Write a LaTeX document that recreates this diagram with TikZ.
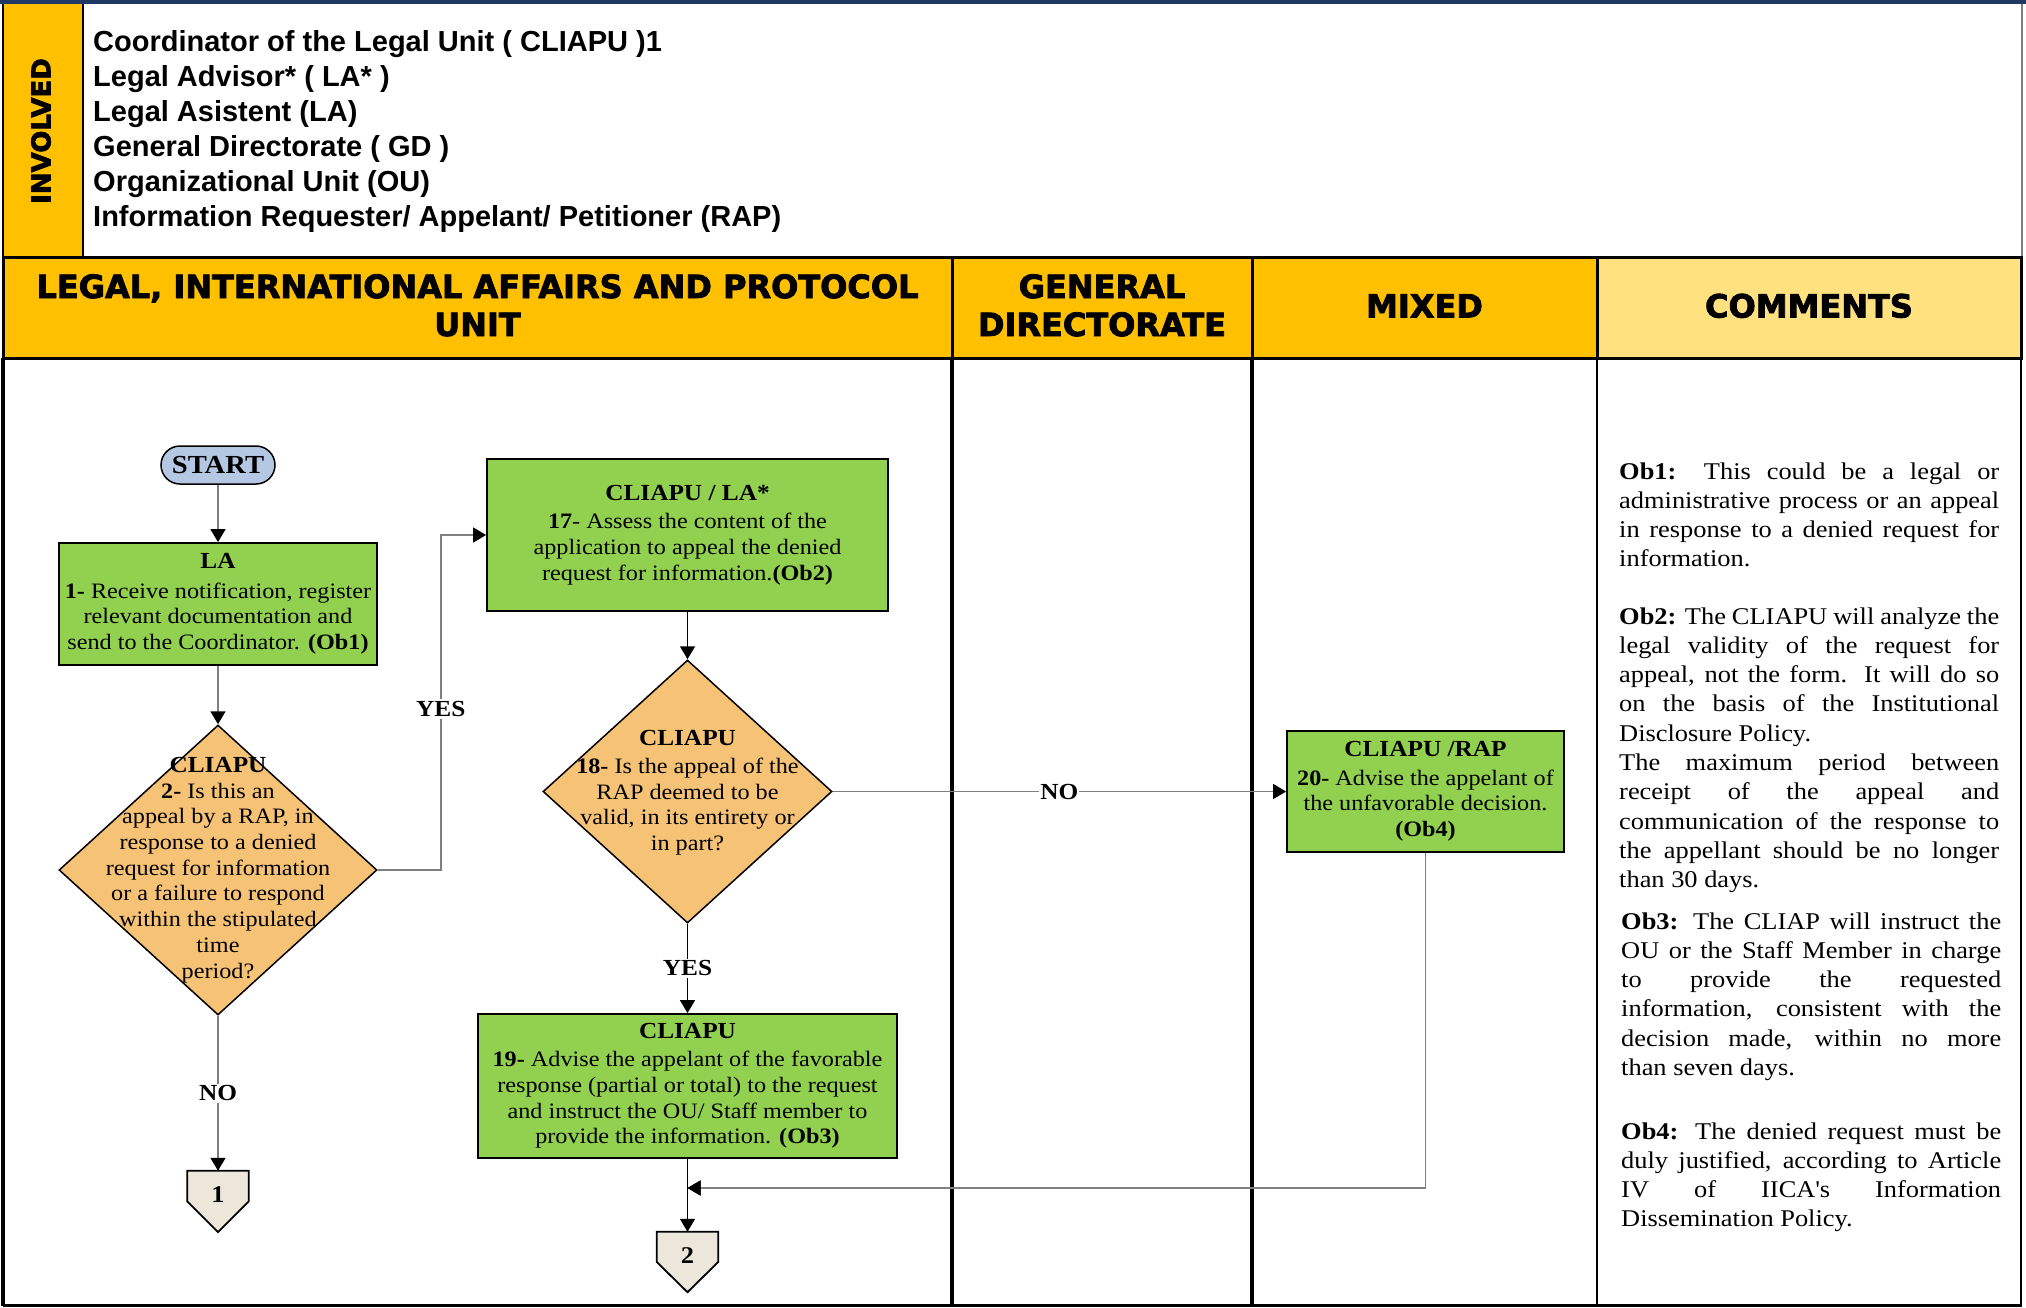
\documentclass[tikz,border=0pt]{standalone}
\usepackage{fontspec}
\setmainfont{Liberation Serif}[FakeStretch=1.1]
\newfontfamily\sansf{Liberation Sans}
\newfontfamily\blackf{DejaVu Sans}[BoldFeatures={FakeBold=2.5}]
\usetikzlibrary{shapes.geometric,arrows.meta,calc}
\definecolor{gold}{HTML}{FFC000}
\definecolor{lightgold}{HTML}{FFE17F}
\definecolor{boxgreen}{HTML}{92D050}
\definecolor{dmdorange}{HTML}{F5C276}
\definecolor{startblue}{HTML}{B4C8E4}
\definecolor{pentfill}{HTML}{EDE7DB}
\definecolor{navy}{HTML}{1F3864}
\definecolor{linegray}{HTML}{7F7F7F}
\newcommand\bodyfs{\fontsize{22}{25.7}\selectfont}
\newcommand\ttl[1]{{\fontsize{23}{25.7}\selectfont\bfseries #1}}
\newcommand\lblfs{\fontsize{23}{26}\selectfont\bfseries}
\newcommand\cmtfs{\fontsize{24}{29.3}\selectfont\hyphenpenalty=10000 \tolerance=10000 }
\newcommand\hdrfs{\blackf\bfseries\fontsize{32}{38}\selectfont}
\tikzset{
  box/.style={draw=black, line width=1.8pt, fill=boxgreen, align=center, inner sep=0pt, font=\bodyfs},
  dmd/.style={draw=black, line width=1.5pt, fill=dmdorange, shape=diamond, inner sep=0pt},
  dtext/.style={align=center, inner sep=0pt, font=\bodyfs},
  pent/.style={draw=black, line width=1.8pt, fill=pentfill},
  tipk/.tip={Triangle[length=13pt,width=15pt,color=black]},
  gconn/.style={draw=linegray, line width=1.5pt, -tipk},
  bconn/.style={draw=black, line width=1.5pt, -tipk},
  lbl/.style={fill=white, inner sep=2pt, font=\lblfs},
  cmt/.style={anchor=base west, text width=380pt, align=justify, inner sep=0pt, font=\cmtfs},
  cell/.style={line width=3pt, draw=black},
}
\begin{document}
\begin{tikzpicture}[x=1pt,y=-1pt]
\useasboundingbox (0,0) rectangle (2026,1307);
\fill[white] (0,0) rectangle (2026,1307);

% ---- involved area ----
\fill[gold] (3,3) rectangle (83,257);
\draw[line width=1.5pt] (3,3) -- (3,257);
\draw[line width=1.5pt] (83,3) -- (83,257);
\draw[linegray, line width=1.5pt] (2022,3) -- (2022,257);
\draw[navy, line width=4pt] (0,2) -- (2026,2);
\node[rotate=90, inner sep=0pt, font=\blackf\bfseries\fontsize{26}{30}\selectfont] (invl) at (41,131) {INVOLVED};
\node[anchor=base west, align=left, inner sep=0pt, font=\sansf\bfseries\fontsize{29}{35}\selectfont] (invlist) at (93,226)
 {Coordinator of the Legal Unit ( CLIAPU )1\\Legal Advisor* ( LA* )\\Legal Asistent (LA)\\General Directorate ( GD )\\Organizational Unit (OU)\\Information Requester/ Appelant/ Petitioner (RAP)};

% ---- header row ----
\filldraw[cell, fill=gold] (3,257) rectangle (952,358);
\filldraw[cell, fill=gold] (952,257) rectangle (1252,358);
\filldraw[cell, fill=gold] (1252,257) rectangle (1597,358);
\filldraw[cell, fill=lightgold] (1597,257) rectangle (2021,358);
\node[anchor=base, align=center, inner sep=0pt, font=\hdrfs] (h1) at (477.5,336) {LEGAL, INTERNATIONAL AFFAIRS AND PROTOCOL\\UNIT};
\node[anchor=base, align=center, inner sep=0pt, font=\hdrfs] (h2) at (1102,336) {GENERAL\\DIRECTORATE};
\node[anchor=base, inner sep=0pt, font=\hdrfs] (h3) at (1424.5,317.5) {MIXED};
\node[anchor=base, inner sep=0pt, font=\hdrfs] (h4) at (1809,317.5) {COMMENTS};

% ---- body lanes ----
\draw[line width=3.5pt] (3,358) -- (3,1306);
\draw[line width=3.5pt] (952,358) -- (952,1307);
\draw[line width=3.5pt] (1252,358) -- (1252,1307);
\draw[line width=2.5pt] (1597,358) -- (1597,1307);
\draw[line width=2pt] (2021,358) -- (2021,1307);
\draw[line width=2.5pt] (3,1305.5) -- (2021,1305.5);

% ---- flow nodes ----
\node[draw=black, line width=1.5pt, fill=startblue, rounded corners=19pt, minimum width=114pt, minimum height=38pt, inner sep=0pt, font=\fontsize{26}{28}\selectfont\bfseries] (start) at (218,465) {START};

\node[box, minimum width=318pt, minimum height=122pt] (la) at (218,604)
 {\ttl{LA}\\[3.5pt]\textbf{1-} Receive notification, register\\relevant documentation and\\send to the Coordinator. \textbf{(Ob1)}};

\node[dmd, minimum width=318pt, minimum height=290pt] (d2) at (218,870) {};
\node[dtext] (d2t) at (218,870)
 {\ttl{CLIAPU}\\\textbf{2-} Is this an\\appeal by a RAP, in\\response to a denied\\request for information\\or a failure to respond\\within the stipulated\\time\\period?};

\node[minimum width=61pt, minimum height=61pt, inner sep=0pt] (c1) at (218,1201.5) {};
\filldraw[pent] (c1.north west) -- (c1.north east) -- (c1.east) -- (c1.south) -- (c1.west) -- cycle;
\node[inner sep=0pt, font=\fontsize{24}{26}\selectfont\bfseries] (c1n) at (218,1195) {1};

\node[box, minimum width=401pt, minimum height=152pt] (b17) at (687.5,535)
 {\ttl{CLIAPU / LA*}\\[2.5pt]\textbf{17}- Assess the content of the\\application to appeal the denied\\request for information.\textbf{(Ob2)}};

\node[dmd, minimum width=289pt, minimum height=263pt] (d18) at (687.5,791.5) {};
\node[dtext] (d18t) at (687.5,792.5)
 {\ttl{CLIAPU}\\[2.5pt]\textbf{18-} Is the appeal of the\\RAP deemed to be\\valid, in its entirety or\\in part?};

\node[box, minimum width=419pt, minimum height=144pt] (b19) at (687.5,1086)
 {\ttl{CLIAPU}\\[2.5pt]\textbf{19-} Advise the appelant of the favorable\\response (partial or total) to the request\\and instruct the OU/ Staff member to\\provide the information. \textbf{(Ob3)}};

\node[minimum width=61pt, minimum height=60pt, inner sep=0pt] (c2) at (687.5,1262) {};
\filldraw[pent] (c2.north west) -- (c2.north east) -- (c2.east) -- (c2.south) -- (c2.west) -- cycle;
\node[inner sep=0pt, font=\fontsize{24}{26}\selectfont\bfseries] (c2n) at (687.5,1256) {2};

\node[box, minimum width=277pt, minimum height=121pt] (b20) at (1425.5,791.5)
 {\ttl{CLIAPU /RAP}\\[2.5pt]\textbf{20-} Advise the appelant of\\the unfavorable decision.\\\textbf{(Ob4)}};

\coordinate (jn) at (687.5,1188);

% ---- connectors ----
\draw[gconn] (start) -- (la);
\draw[gconn] (la) -- (d2.north);
\draw[gconn] (d2.south) -- node[lbl] (no1) {NO} (c1.north);
\draw[gconn] (d2.east) -- ++(63,0) |- node[lbl, pos=0.24] (yes1) {YES} (b17.west);
\draw[bconn] (b17) -- (d18.north);
\draw[bconn] (d18.south) -- node[lbl] (yes2) {YES} (b19.north);
\draw[gconn] (d18.east) -- node[lbl, inner sep=1pt] (no2) {NO} (b20.west);
\draw[bconn] (b19.south) -- (c2.north);
\draw[gconn] (b20.south) |- (jn);
\fill[black] (jn) -- ++(13,-7.5) -- ++(0,15) -- cycle;

% ---- comments ----
\node[cmt] (ob1) at (1619,479)
 {\textbf{Ob1:} This could be a legal or\linebreak administrative process or an appeal\linebreak in response to a denied request for\linebreak information.};
\node[cmt] (ob2) at (1619,624)
 {\textbf{Ob2:} The CLIAPU will analyze the\linebreak legal validity of the request for\linebreak appeal, not the form. It will do so\linebreak on the basis of the Institutional\linebreak Disclosure Policy.\par
 The maximum period between\linebreak receipt of the appeal and\linebreak communication of the response to\linebreak the appellant should be no longer\linebreak than 30 days.};
\node[cmt] (ob3) at (1621,929)
 {\textbf{Ob3:} The CLIAP will instruct the\linebreak OU or the Staff Member in charge\linebreak to provide the requested\linebreak information, consistent with the\linebreak decision made, within no more\linebreak than seven days.};
\node[cmt] (ob4) at (1621,1139)
 {\textbf{Ob4:} The denied request must be\linebreak duly justified, according to Article\linebreak IV of IICA\textquotesingle s Information\linebreak Dissemination Policy.};
\end{tikzpicture}
\end{document}
